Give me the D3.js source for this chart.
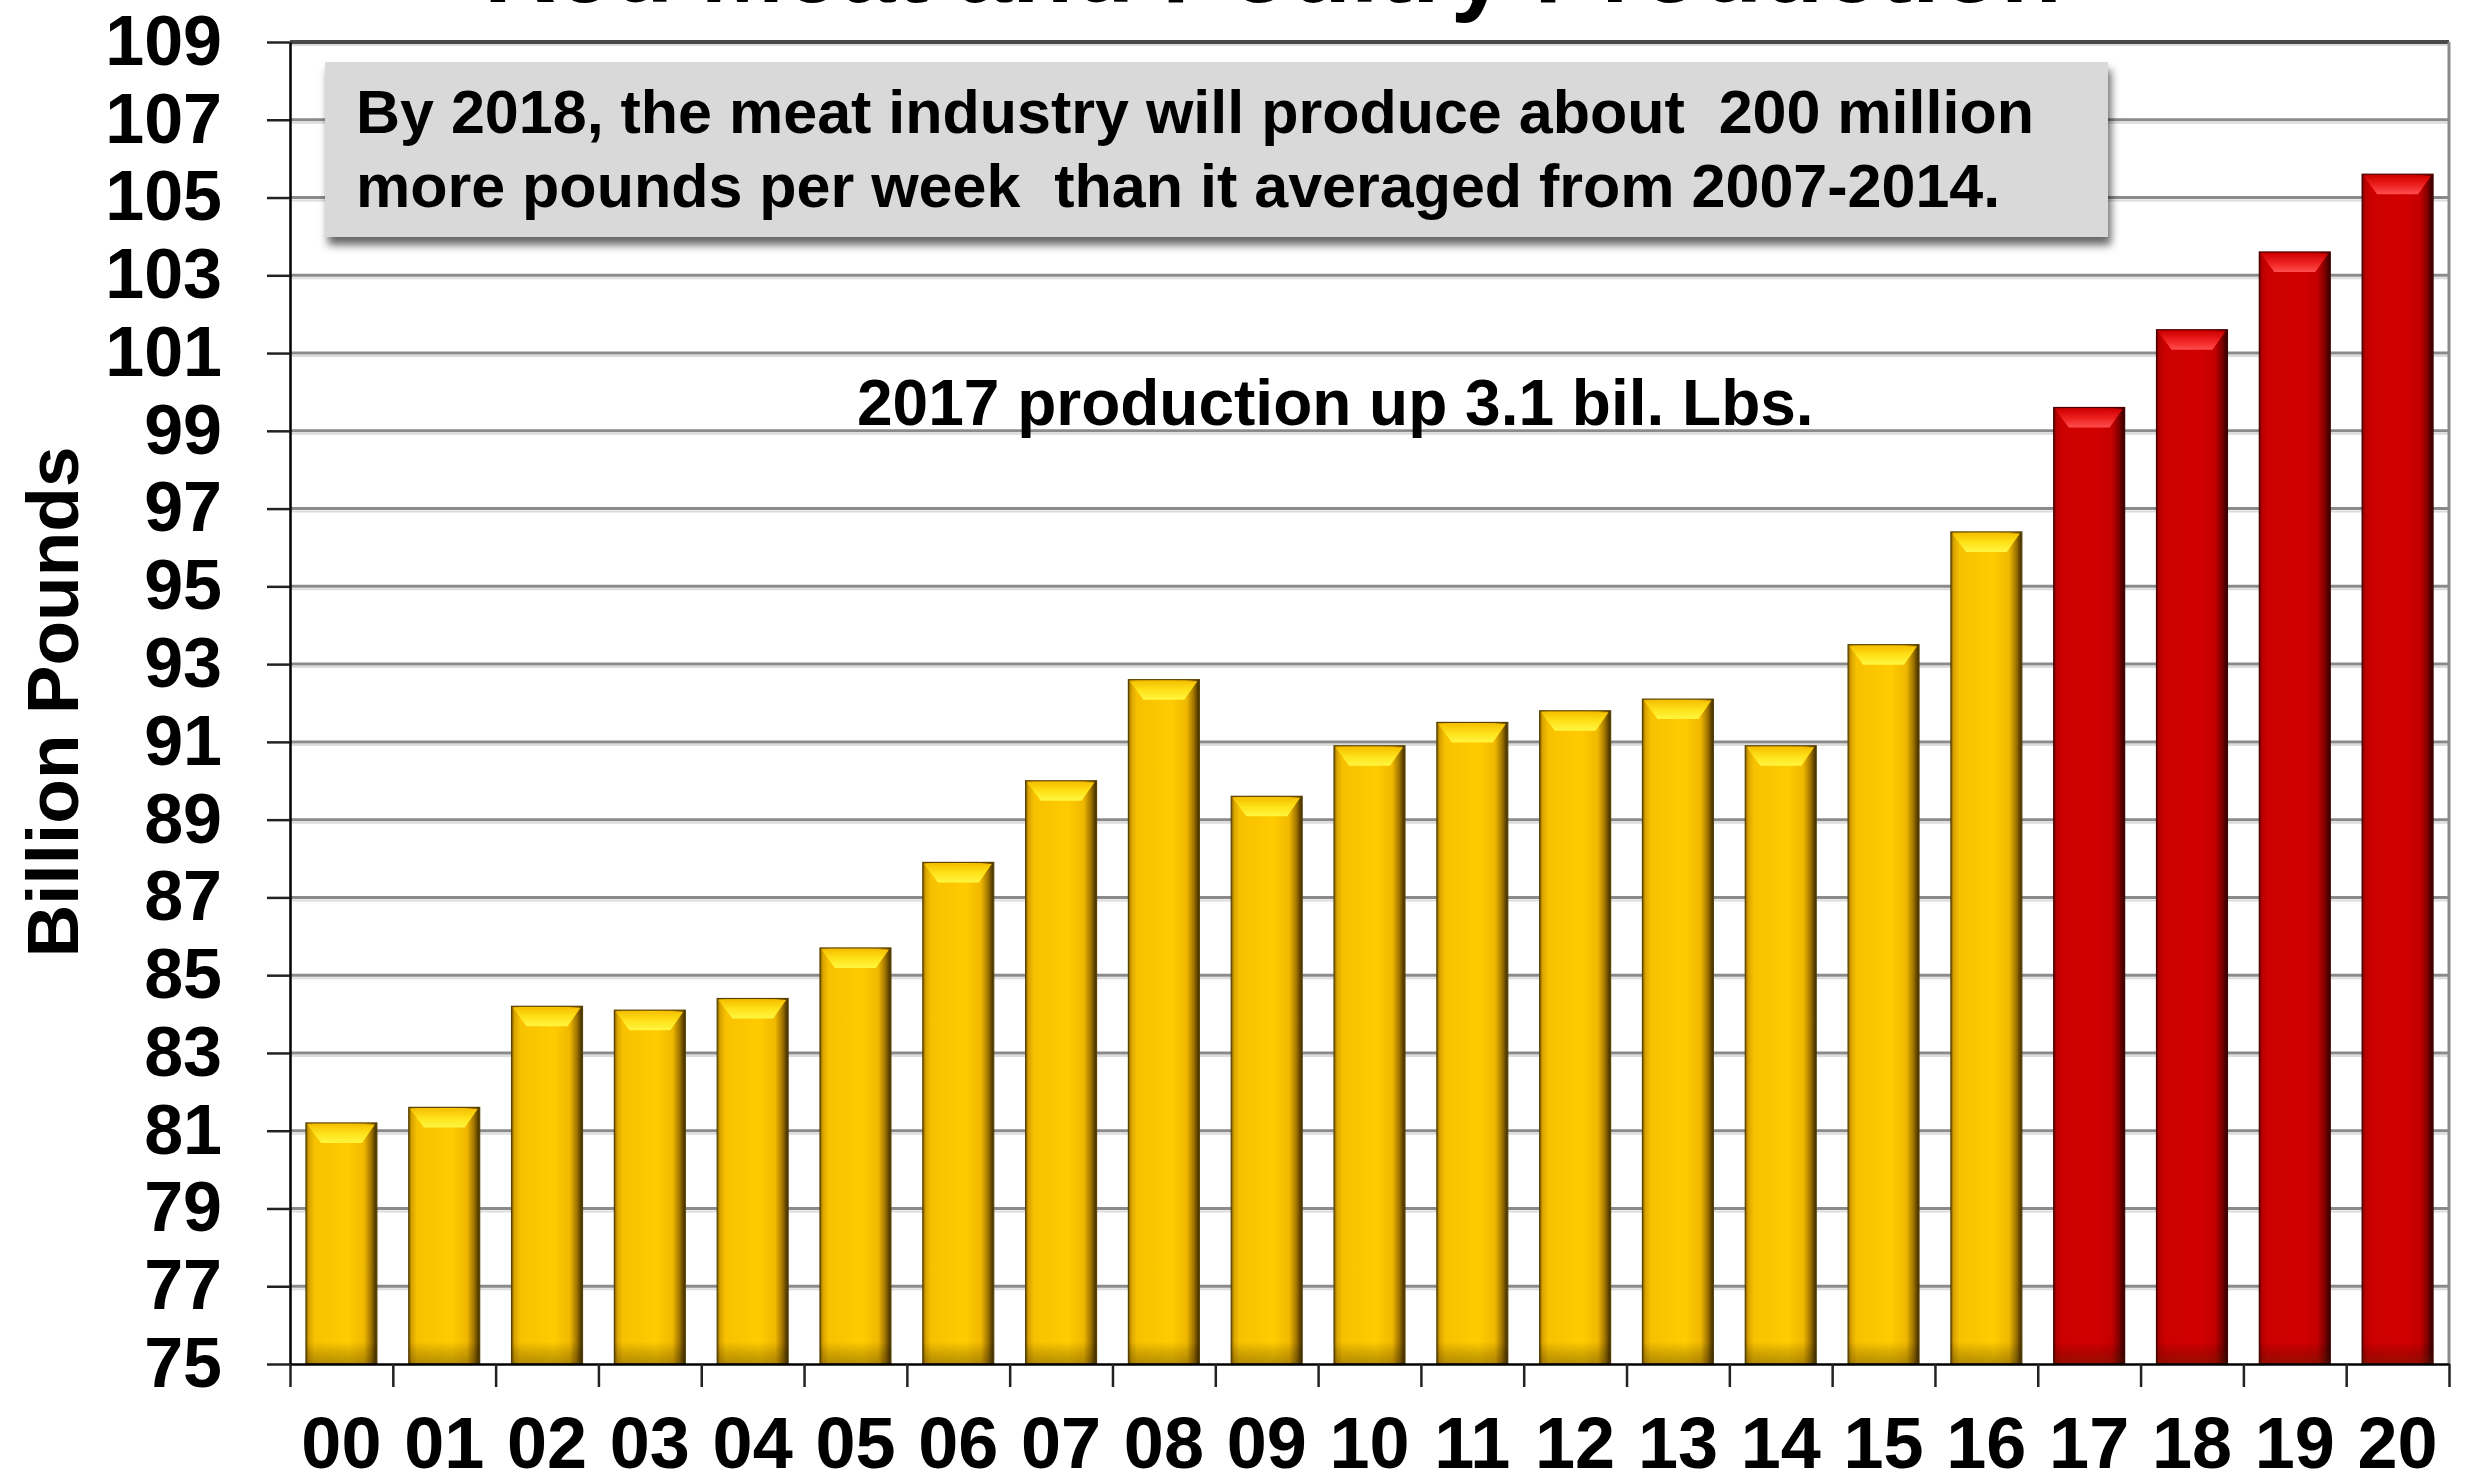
<!DOCTYPE html>
<html>
<head>
<meta charset="utf-8">
<script src="https://cdn.jsdelivr.net/npm/d3@7"></script>
<style>
body { margin: 0; background: #fff; }
text { font-family: "Liberation Sans", Arial, sans-serif; font-weight: bold; fill: #000; }
</style>
</head>
<body>
<svg id="chart" width="2465" height="1484"></svg>
<script>
// years (20xx) and meat production, billion pounds
const years = ["00","01","02","03","04","05","06","07","08","09","10",
               "11","12","13","14","15","16","17","18","19","20"];
const production = [81.2, 81.6, 84.2, 84.1, 84.4, 85.7, 87.9, 90.0, 92.6, 89.6, 90.9,
                    91.5, 91.8, 92.1, 90.9, 93.5, 96.4, 99.6, 101.6, 103.6, 105.6];
const forecastYears = ["17","18","19","20"];
const yTicks = d3.range(75, 110, 2);
const title = "Red Meat and Poultry Production";
const boxLines = ["By 2018, the meat industry will produce about  200 million",
                  "more pounds per week  than it averaged from 2007-2014."];
const note = "2017 production up 3.1 bil. Lbs.";
const yTitle = "Billion Pounds";

const svg = d3.select("#chart");
const plotL = 290, plotR = 2449, plotT = 42, plotB = 1364;

const x = d3.scaleBand().domain(years).range([plotL, plotR]).paddingInner(0.31).paddingOuter(0.155);
const xEdge = d3.scaleLinear().domain([0, years.length]).range([plotL, plotR]);
const y = d3.scaleLinear().domain([75, 109]).range([plotB, plotT]);

// gradients
const defs = svg.append("defs");
function hGrad(id, stops) {
  let g = defs.append("linearGradient").attr("id", id).attr("x1", 0).attr("x2", 1).attr("y1", 0).attr("y2", 0);
  stops.forEach(s => g.append("stop").attr("offset", s[0]).attr("stop-color", s[1]).attr("stop-opacity", s[2] == null ? 1 : s[2]));
}
function vGrad(id, stops) {
  let g = defs.append("linearGradient").attr("id", id).attr("x1", 0).attr("x2", 0).attr("y1", 0).attr("y2", 1);
  stops.forEach(s => g.append("stop").attr("offset", s[0]).attr("stop-color", s[1]).attr("stop-opacity", s[2] == null ? 1 : s[2]));
}
hGrad("gold", [[0,"#7a5a00"],[0.04,"#d9a300"],[0.12,"#f7c100"],[0.6,"#ffcb00"],[0.82,"#f0b800"],[0.92,"#a07400"],[1,"#3a2900"]]);
hGrad("red", [[0,"#6a0000"],[0.04,"#b80000"],[0.12,"#cc0000"],[0.6,"#d20000"],[0.82,"#c40000"],[0.92,"#800000"],[1,"#2e0000"]]);
vGrad("goldTop", [[0,"#f5c000"],[0.5,"#ffe21a"],[1,"#fff640"]]);
vGrad("redTop", [[0,"#d00000"],[0.5,"#ee2020"],[1,"#ff4d4d"]]);
vGrad("foot", [[0,"#000",0],[1,"#3a2800",0.35]]);
let shadow = defs.append("filter").attr("id", "shadow").attr("x", -0.05).attr("y", -0.2).attr("width", 1.1).attr("height", 1.5);
shadow.append("feDropShadow").attr("dx", 3).attr("dy", 8).attr("stdDeviation", 4)
  .attr("flood-color", "#000").attr("flood-opacity", 0.6);

// cut-off title at the very top
svg.append("text").attr("x", 1273).attr("y", 2).attr("text-anchor", "middle")
  .style("font-size", "100px").text(title);

// gridlines
svg.selectAll(".grid").data(yTicks.filter(v => v > 75)).join("line")
  .attr("x1", plotL).attr("x2", plotR)
  .attr("y1", d => y(d)).attr("y2", d => y(d))
  .attr("stroke", d => d == 109 ? "#4a4a4a" : "#8a8a8a")
  .attr("stroke-width", d => d == 109 ? 4 : 3);
svg.selectAll(".gridshade").data(yTicks.filter(v => v > 75)).join("line")
  .attr("x1", plotL).attr("x2", plotR)
  .attr("y1", d => y(d) + 3).attr("y2", d => y(d) + 3)
  .attr("stroke", "#dcdcdc").attr("stroke-width", 2);
svg.append("line").attr("x1", plotR).attr("x2", plotR).attr("y1", y(109)).attr("y2", y(75))
  .attr("stroke", "#8a8a8a").attr("stroke-width", 3);

// bars
const bars = svg.selectAll(".bar").data(years.map((d, i) => ({year: d, value: production[i]}))).join("g");
bars.append("rect")
  .attr("x", d => x(d.year)).attr("y", d => y(d.value))
  .attr("width", x.bandwidth()).attr("height", d => y(75) - y(d.value))
  .attr("fill", d => forecastYears.includes(d.year) ? "url(#red)" : "url(#gold)")
  .attr("stroke", d => forecastYears.includes(d.year) ? "#4a0000" : "#5a4300")
  .attr("stroke-width", 1.2);
bars.append("path")
  .attr("d", d => {
    let x0 = x(d.year), x1 = x0 + x.bandwidth(), t = y(d.value), b = 20, s = 15;
    return `M${x0 + 1.5},${t + 1.5} L${x1 - 2},${t + 1.5} L${x1 - s},${t + b} L${x0 + s},${t + b} Z`;
  })
  .attr("fill", d => forecastYears.includes(d.year) ? "url(#redTop)" : "url(#goldTop)");
bars.append("rect")
  .attr("x", d => x(d.year)).attr("y", y(75) - 22)
  .attr("width", x.bandwidth()).attr("height", 22)
  .attr("fill", "url(#foot)");

// axes
const yAxis = svg.append("g").attr("transform", `translate(${plotL},0)`)
  .call(d3.axisLeft(y).tickValues(yTicks).tickSize(23).tickSizeOuter(0).tickPadding(45));
yAxis.selectAll("text").style("font-size", "70px");

const xEdges = svg.append("g").attr("transform", `translate(0,${plotB})`)
  .call(d3.axisBottom(xEdge).tickValues(d3.range(years.length + 1)).tickSize(23).tickSizeOuter(0).tickFormat(""));

const xAxis = svg.append("g").attr("transform", `translate(0,${plotB})`)
  .call(d3.axisBottom(x).tickSize(0).tickPadding(53));
xAxis.select(".domain").remove();
xAxis.selectAll("text").style("font-size", "72px");

svg.selectAll(".domain").attr("stroke", "#000").attr("stroke-width", 2.5);
svg.selectAll(".tick line").attr("stroke", "#222").attr("stroke-width", 2.5);

// y title
svg.append("text").attr("transform", "translate(78,702) rotate(-90)")
  .attr("text-anchor", "middle").style("font-size", "73px").text(yTitle);

// annotation box
svg.append("rect").attr("x", 325).attr("y", 62).attr("width", 1783).attr("height", 175)
  .attr("fill", "#d9d9d9").attr("filter", "url(#shadow)");
svg.selectAll(".boxline").data(boxLines).join("text")
  .attr("x", 356).attr("y", (d, i) => 133 + i * 74)
  .style("font-size", "61px").style("white-space", "pre").text(d => d);

svg.append("text").attr("x", 857).attr("y", 425).style("font-size", "64px").text(note);
</script>
</body>
</html>
